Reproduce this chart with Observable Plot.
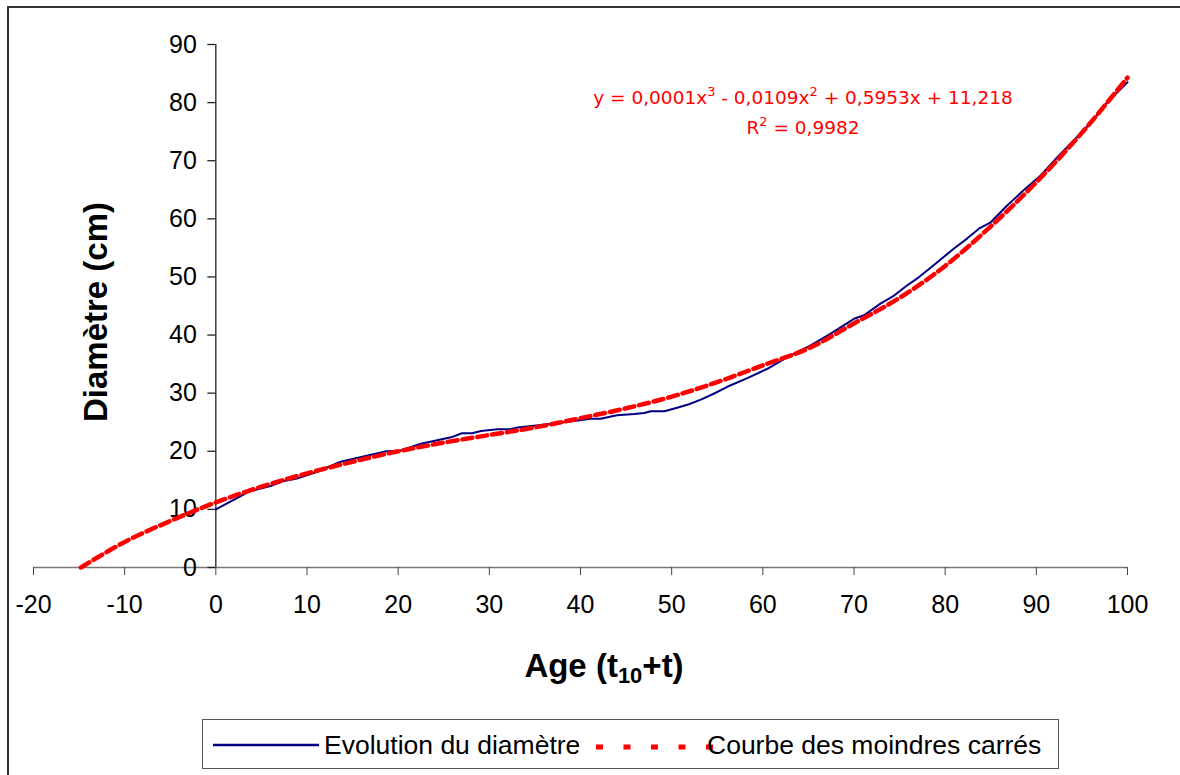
<!DOCTYPE html>
<html><head><meta charset="utf-8">
<script src="https://cdn.jsdelivr.net/npm/d3@7"></script>
<script src="https://cdn.jsdelivr.net/npm/@observablehq/plot@0.6"></script>
<style>
html,body{margin:0;padding:0;background:#fff;overflow:hidden;width:1180px;height:775px;}
#frame{position:absolute;left:7px;top:6px;width:1200px;height:800px;border:2px solid #333;box-sizing:border-box;}
#chart{position:absolute;left:0;top:0;}
#legend{position:absolute;left:202px;top:719px;width:857px;height:50px;border:1px solid #555;box-sizing:border-box;background:#fff;}
</style></head><body>
<div id="frame"></div>
<div id="chart"></div>
<div id="legend"></div>
<script>
// Observed diameter (blue line)
const obsAge  = [0,3.7,6.0,7.5,8.9,10.8,13.7,16.2,18.7,20.2,22.5,25.8,27.0,28.1,29.1,30.9,32.3,33.1,34.9,37.1,39.3,41.1,42.2,44.0,45.9,47.0,47.7,49.2,50.6,51.9,53.2,54.6,56.1,58.3,60.5,62.7,65.2,67.4,70.0,71.1,72.9,74.4,75.7,76.9,78.8,80.9,82.4,83.7,85.0,86.8,88.6,90.5,92.3,94.1,95.9,97.8,100];
const obsDiam = [10,13.1,14.0,14.9,15.3,16.3,18.2,19.1,20.0,20.1,21.3,22.4,23.1,23.1,23.5,23.8,23.8,24.1,24.4,24.8,25.2,25.6,25.6,26.2,26.4,26.6,26.9,26.9,27.5,28.1,28.9,29.9,31.1,32.6,34.2,36.2,38.2,40.2,42.8,43.4,45.4,46.8,48.4,49.7,52.1,54.8,56.6,58.3,59.4,62.3,64.9,67.5,70.6,73.5,76.4,80.1,83.5];
// Least-squares trend (red dashed)
const fitAge  = [-14.8,-10,-5,0,5,10,15,20,25,30,35,40,45,50,55,60,65,70,75,80,85,90,95,100];
const fitDiam = [0,4.4,8.0,11.2,13.9,16.2,18.2,20.0,21.5,22.8,24.1,25.7,27.4,29.4,31.9,34.8,37.7,42.0,46.4,51.9,58.7,66.3,74.8,84.3];
// Ticks
const xTicks = [-20,-10,0,10,20,30,40,50,60,70,80,90,100];
const yTicks = [0,10,20,30,40,50,60,70,80,90];
// Texts
const xTitle = ["Age (t", "10", "+t)"];
const yTitle = "Diamètre (cm)";
const eqParts = ["y = 0,0001x", "3", " - 0,0109x", "2", " + 0,5953x + 11,218"];
const r2Parts = ["R", "2", " = 0,9982"];
const seriesNames = ["Evolution du diamètre", "Courbe des moindres carrés"];

const obs = obsAge.map((x, i) => ({x, y: obsDiam[i]}));
const fit = fitAge.map((x, i) => ({x, y: fitDiam[i]}));
const FONT = "Liberation Sans, Arial, sans-serif";

const chart = Plot.plot({
  width: 1180, height: 715,
  marginLeft: 33, marginRight: 53, marginTop: 44, marginBottom: 148,
  style: {fontFamily: FONT, fontSize: "25px", background: "transparent", color: "#000", overflow: "visible"},
  x: {domain: [-20, 100]},
  y: {domain: [0, 90], axis: null},
  marks: [
    Plot.ruleY([0], {stroke: "#777", strokeWidth: 1.5}),
    Plot.axisX(xTicks, {tickSize: 8, tickPadding: 20, fontSize: 25, stroke: "#444", fill: "#000", label: null, tickFormat: d => String(d)}),
    Plot.ruleX([0], {stroke: "#222", strokeWidth: 1.3}),
    Plot.ruleY(yTicks, {x1: 0, x2: 0, insetLeft: -8, stroke: "#222", strokeWidth: 1.3}),
    Plot.text(yTicks, {x: 0, y: d => d, text: d => String(d), dx: -19, textAnchor: "end", fontSize: 25, fill: "#000"}),
    Plot.line(obs, {x: "x", y: "y", stroke: "#000080", strokeWidth: 2}),
    Plot.line(fit, {x: "x", y: "y", stroke: "#ff0000", strokeWidth: 4.5, strokeDasharray: "10,5", curve: "catmull-rom"})
  ]
});
document.getElementById("chart").appendChild(chart);

const svg = d3.select(chart);
// Axis titles
svg.append("text")
  .attr("transform", "translate(107,312) rotate(-90)")
  .attr("text-anchor", "middle")
  .style("font-family", FONT).style("font-size", "33px").style("font-weight", "bold")
  .text(yTitle);
const xt = svg.append("text")
  .attr("x", 604).attr("y", 677).attr("text-anchor", "middle")
  .style("font-family", FONT).style("font-size", "33px").style("font-weight", "bold");
xt.append("tspan").text(xTitle[0]);
xt.append("tspan").attr("dy", 6).style("font-size", "22px").text(xTitle[1]);
xt.append("tspan").attr("dy", -6).text(xTitle[2]);

// Equation
function supText(y, parts) {
  const t = svg.append("text").attr("x", 803).attr("y", y).attr("text-anchor", "middle")
    .attr("fill", "#ff0000").style("font-family", "DejaVu Sans, Verdana, sans-serif").style("font-size", "18.5px");
  parts.forEach((p, i) => {
    const s = t.append("tspan").text(p);
    if (i % 2 === 1) s.attr("dy", -8).style("font-size", "13px");
    else if (i > 0) s.attr("dy", 8);
  });
}
supText(104, eqParts);
supText(134, r2Parts);

// Legend
const lg = d3.select("#legend").append("svg").attr("width", 855).attr("height", 48);
lg.append("line").attr("x1", 10).attr("x2", 116).attr("y1", 25).attr("y2", 25)
  .attr("stroke", "#000080").attr("stroke-width", 2.5);
lg.append("text").attr("x", 121).attr("y", 34).style("font-family", FONT).style("font-size", "26.5px").text(seriesNames[0]);
lg.append("line").attr("x1", 393).attr("x2", 510).attr("y1", 27).attr("y2", 27)
  .attr("stroke", "#ff0000").attr("stroke-width", 5).attr("stroke-dasharray", "7,20.5");
lg.append("text").attr("x", 504).attr("y", 34).style("font-family", FONT).style("font-size", "26.5px").text(seriesNames[1]);
</script>
</body></html>
